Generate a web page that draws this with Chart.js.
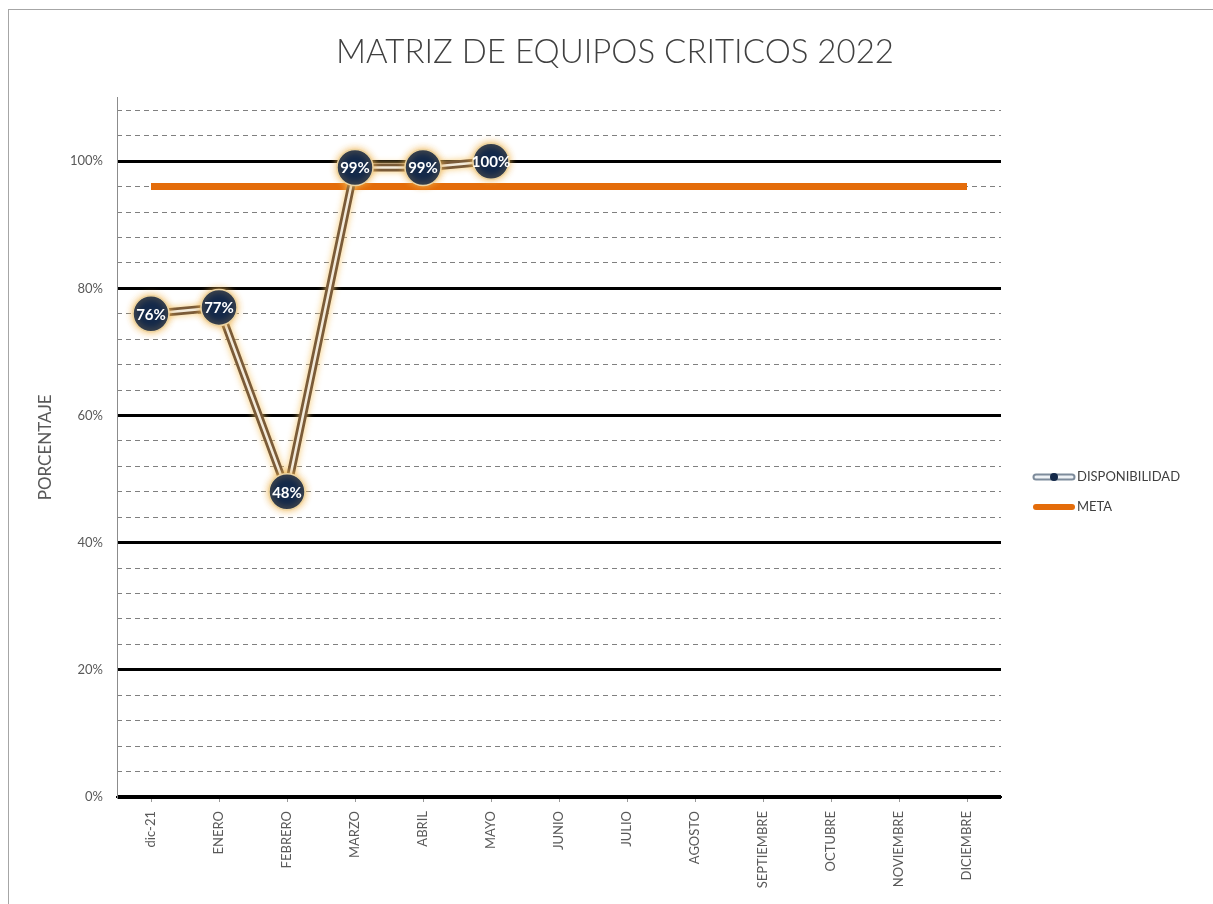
<!DOCTYPE html>
<html lang="es">
<head>
    <meta charset="UTF-8">
    <title>Matriz de equipos criticos 2022</title>
    <style>
        body {
            margin: 0;
            background-color: #ffffff;
        }
        .marco {
            position: absolute;
            left: 8px;
            top: 9px;
            width: 1300px;
            height: 1000px;
            border-left: 1px solid #a6a6a6;
            border-top: 1px solid #a6a6a6;
        }
        #grafico {
            position: absolute;
            left: 0;
            top: 0;
        }
    </style>
    <script src="https://cdn.jsdelivr.net/npm/chart.js"></script>
</head>
<body>
    <div class="marco"></div>
    <canvas id="grafico" width="1213" height="904"></canvas>
    <script>
        // datos del grafico
        const meses = ['dic-21', 'ENERO', 'FEBRERO', 'MARZO', 'ABRIL', 'MAYO', 'JUNIO',
            'JULIO', 'AGOSTO', 'SEPTIEMBRE', 'OCTUBRE', 'NOVIEMBRE', 'DICIEMBRE'];
        const disponibilidad = [76, 77, 48, 99, 99, 100, null, null, null, null, null, null, null];
        const meta = [96, 96, 96, 96, 96, 96, 96, 96, 96, 96, 96, 96, 96];
        const marcasPrincipales = [0, 20, 40, 60, 80, 100];
        const marcasSecundarias = [0, 4, 8, 12, 16, 20, 24, 28, 32, 36, 40, 44, 48, 52,
            56, 60, 64, 68, 72, 76, 80, 84, 88, 92, 96, 100, 104, 108];

        const fuente = 'Lato, "DejaVu Sans", sans-serif';

        // brillo alrededor de la linea y los marcadores
        const brillo = {
            id: 'brillo',
            beforeDatasetDraw(chart, args) {
                const ds = chart.data.datasets[args.index];
                if (!ds.brillo) return;
                chart.ctx.save();
                chart.ctx.shadowColor = ds.brillo;
                chart.ctx.shadowBlur = 7;
            },
            afterDatasetDraw(chart, args) {
                const ds = chart.data.datasets[args.index];
                if (ds.brillo) chart.ctx.restore();
            }
        };

        // porcentaje dentro de cada marcador
        const etiquetas = {
            id: 'etiquetas',
            afterDatasetsDraw(chart) {
                const ctx = chart.ctx;
                chart.data.datasets.forEach((ds, i) => {
                    if (!ds.etiquetas) return;
                    const meta = chart.getDatasetMeta(i);
                    ctx.save();
                    ctx.font = 'bold 15px ' + fuente;
                    ctx.fillStyle = '#ffffff';
                    ctx.textAlign = 'center';
                    ctx.textBaseline = 'middle';
                    meta.data.forEach((p, j) => {
                        if (ds.data[j] == null) return;
                        ctx.fillText(ds.data[j] + '%', p.x, p.y + 1);
                    });
                    ctx.restore();
                });
            }
        };

        // leyenda a la derecha
        const leyenda = {
            id: 'leyenda',
            afterDraw(chart) {
                const ctx = chart.ctx;
                const x0 = chart.chartArea.right + 32;
                const x1 = x0 + 42;
                let y = 477;
                ctx.save();
                ctx.font = '13px ' + fuente;
                ctx.textBaseline = 'middle';
                chart.data.datasets.forEach(ds => {
                    if (!ds.leyenda) return;
                    ctx.lineCap = 'round';
                    if (ds.leyenda === 'marcador') {
                        ctx.strokeStyle = '#7d8b9b';
                        ctx.lineWidth = 7;
                        ctx.beginPath(); ctx.moveTo(x0 + 3, y); ctx.lineTo(x1 - 3, y); ctx.stroke();
                        ctx.strokeStyle = '#eef2f6';
                        ctx.lineWidth = 3;
                        ctx.beginPath(); ctx.moveTo(x0 + 3, y); ctx.lineTo(x1 - 3, y); ctx.stroke();
                        ctx.fillStyle = '#14294a';
                        ctx.beginPath(); ctx.arc((x0 + x1) / 2, y, 4, 0, Math.PI * 2); ctx.fill();
                    } else {
                        ctx.strokeStyle = ds.borderColor;
                        ctx.lineWidth = 6;
                        ctx.beginPath(); ctx.moveTo(x0 + 3, y); ctx.lineTo(x1 - 3, y); ctx.stroke();
                    }
                    ctx.fillStyle = '#404040';
                    ctx.fillText(ds.label, x1 + 2, y);
                    y += 30;
                });
                ctx.restore();
            }
        };

        new Chart(document.getElementById('grafico'), {
            type: 'line',
            data: {
                labels: meses,
                datasets: [
                    {
                        label: 'DISPONIBILIDAD',
                        data: disponibilidad,
                        showLine: false,
                        pointRadius: 18,
                        pointBackgroundColor: '#14294a',
                        pointBorderColor: '#ecd3a0',
                        pointBorderWidth: 1.5,
                        brillo: 'rgba(240, 180, 80, 0.9)',
                        etiquetas: true,
                        leyenda: 'marcador',
                        clip: false,
                        order: 1
                    },
                    {
                        label: 'DISPONIBILIDAD interior',
                        data: disponibilidad,
                        borderColor: '#f3ead9',
                        borderWidth: 2.5,
                        pointRadius: 0,
                        tension: 0,
                        order: 2
                    },
                    {
                        label: 'DISPONIBILIDAD exterior',
                        data: disponibilidad,
                        borderColor: '#7a5b38',
                        borderWidth: 8,
                        pointRadius: 0,
                        tension: 0,
                        brillo: 'rgba(245, 195, 100, 0.9)',
                        order: 3
                    },
                    {
                        label: 'META',
                        data: meta,
                        borderColor: '#e46c0a',
                        borderWidth: 7,
                        borderCapStyle: 'butt',
                        pointRadius: 0,
                        tension: 0,
                        leyenda: 'linea',
                        order: 4
                    }
                ]
            },
            options: {
                responsive: false,
                animation: false,
                layout: { padding: { left: 17, right: 0, top: 0, bottom: 0 } },
                plugins: {
                    legend: { display: false },
                    tooltip: { enabled: false },
                    title: {
                        display: true,
                        text: 'MATRIZ DE EQUIPOS CRITICOS 2022',
                        color: '#404040',
                        font: { family: fuente, size: 33, weight: 300 },
                        padding: { top: 33, bottom: 25 }
                    }
                },
                scales: {
                    x: {
                        offset: true,
                        grid: {
                            offset: false,
                            drawOnChartArea: false,
                            drawTicks: true,
                            tickLength: 5,
                            color: '#999999'
                        },
                        border: { color: '#000000', width: 2 },
                        ticks: {
                            color: '#595959',
                            font: { family: fuente, size: 13 },
                            minRotation: 90,
                            maxRotation: 90,
                            padding: 9,
                            autoSkip: false
                        },
                        afterFit: s => { s.height = 107; }
                    },
                    ySec: {
                        position: 'left',
                        min: 0,
                        max: 110,
                        z: -1,
                        afterBuildTicks: s => { s.ticks = marcasSecundarias.map(v => ({ value: v })); },
                        afterFit: s => { s.width = 0; },
                        ticks: { display: false },
                        grid: { color: '#808080', lineWidth: 1, drawTicks: false },
                        border: { display: false, dash: [5, 4] }
                    },
                    y: {
                        position: 'left',
                        min: 0,
                        max: 110,
                        afterBuildTicks: s => { s.ticks = marcasPrincipales.map(v => ({ value: v })); },
                        afterFit: s => { s.width = 100; },
                        ticks: {
                            color: '#595959',
                            font: { family: fuente, size: 13 },
                            padding: 14,
                            callback: v => v + '%'
                        },
                        grid: {
                            color: '#000000',
                            lineWidth: c => (c.tick && c.tick.value === 0 ? 4 : 3),
                            drawTicks: false
                        },
                        border: { color: '#8c8c8c', width: 1 },
                        title: {
                            display: true,
                            text: 'PORCENTAJE',
                            color: '#595959',
                            font: { family: fuente, size: 17 },
                            padding: { top: 18, bottom: 0 }
                        }
                    },
                    // espacio reservado para la leyenda
                    yLeyenda: {
                        position: 'right',
                        min: 0,
                        max: 110,
                        afterFit: s => { s.width = 212; },
                        ticks: { display: false },
                        grid: { drawOnChartArea: false, drawTicks: false },
                        border: { display: false }
                    }
                }
            },
            plugins: [brillo, etiquetas, leyenda]
        });
    </script>
</body>
</html>
